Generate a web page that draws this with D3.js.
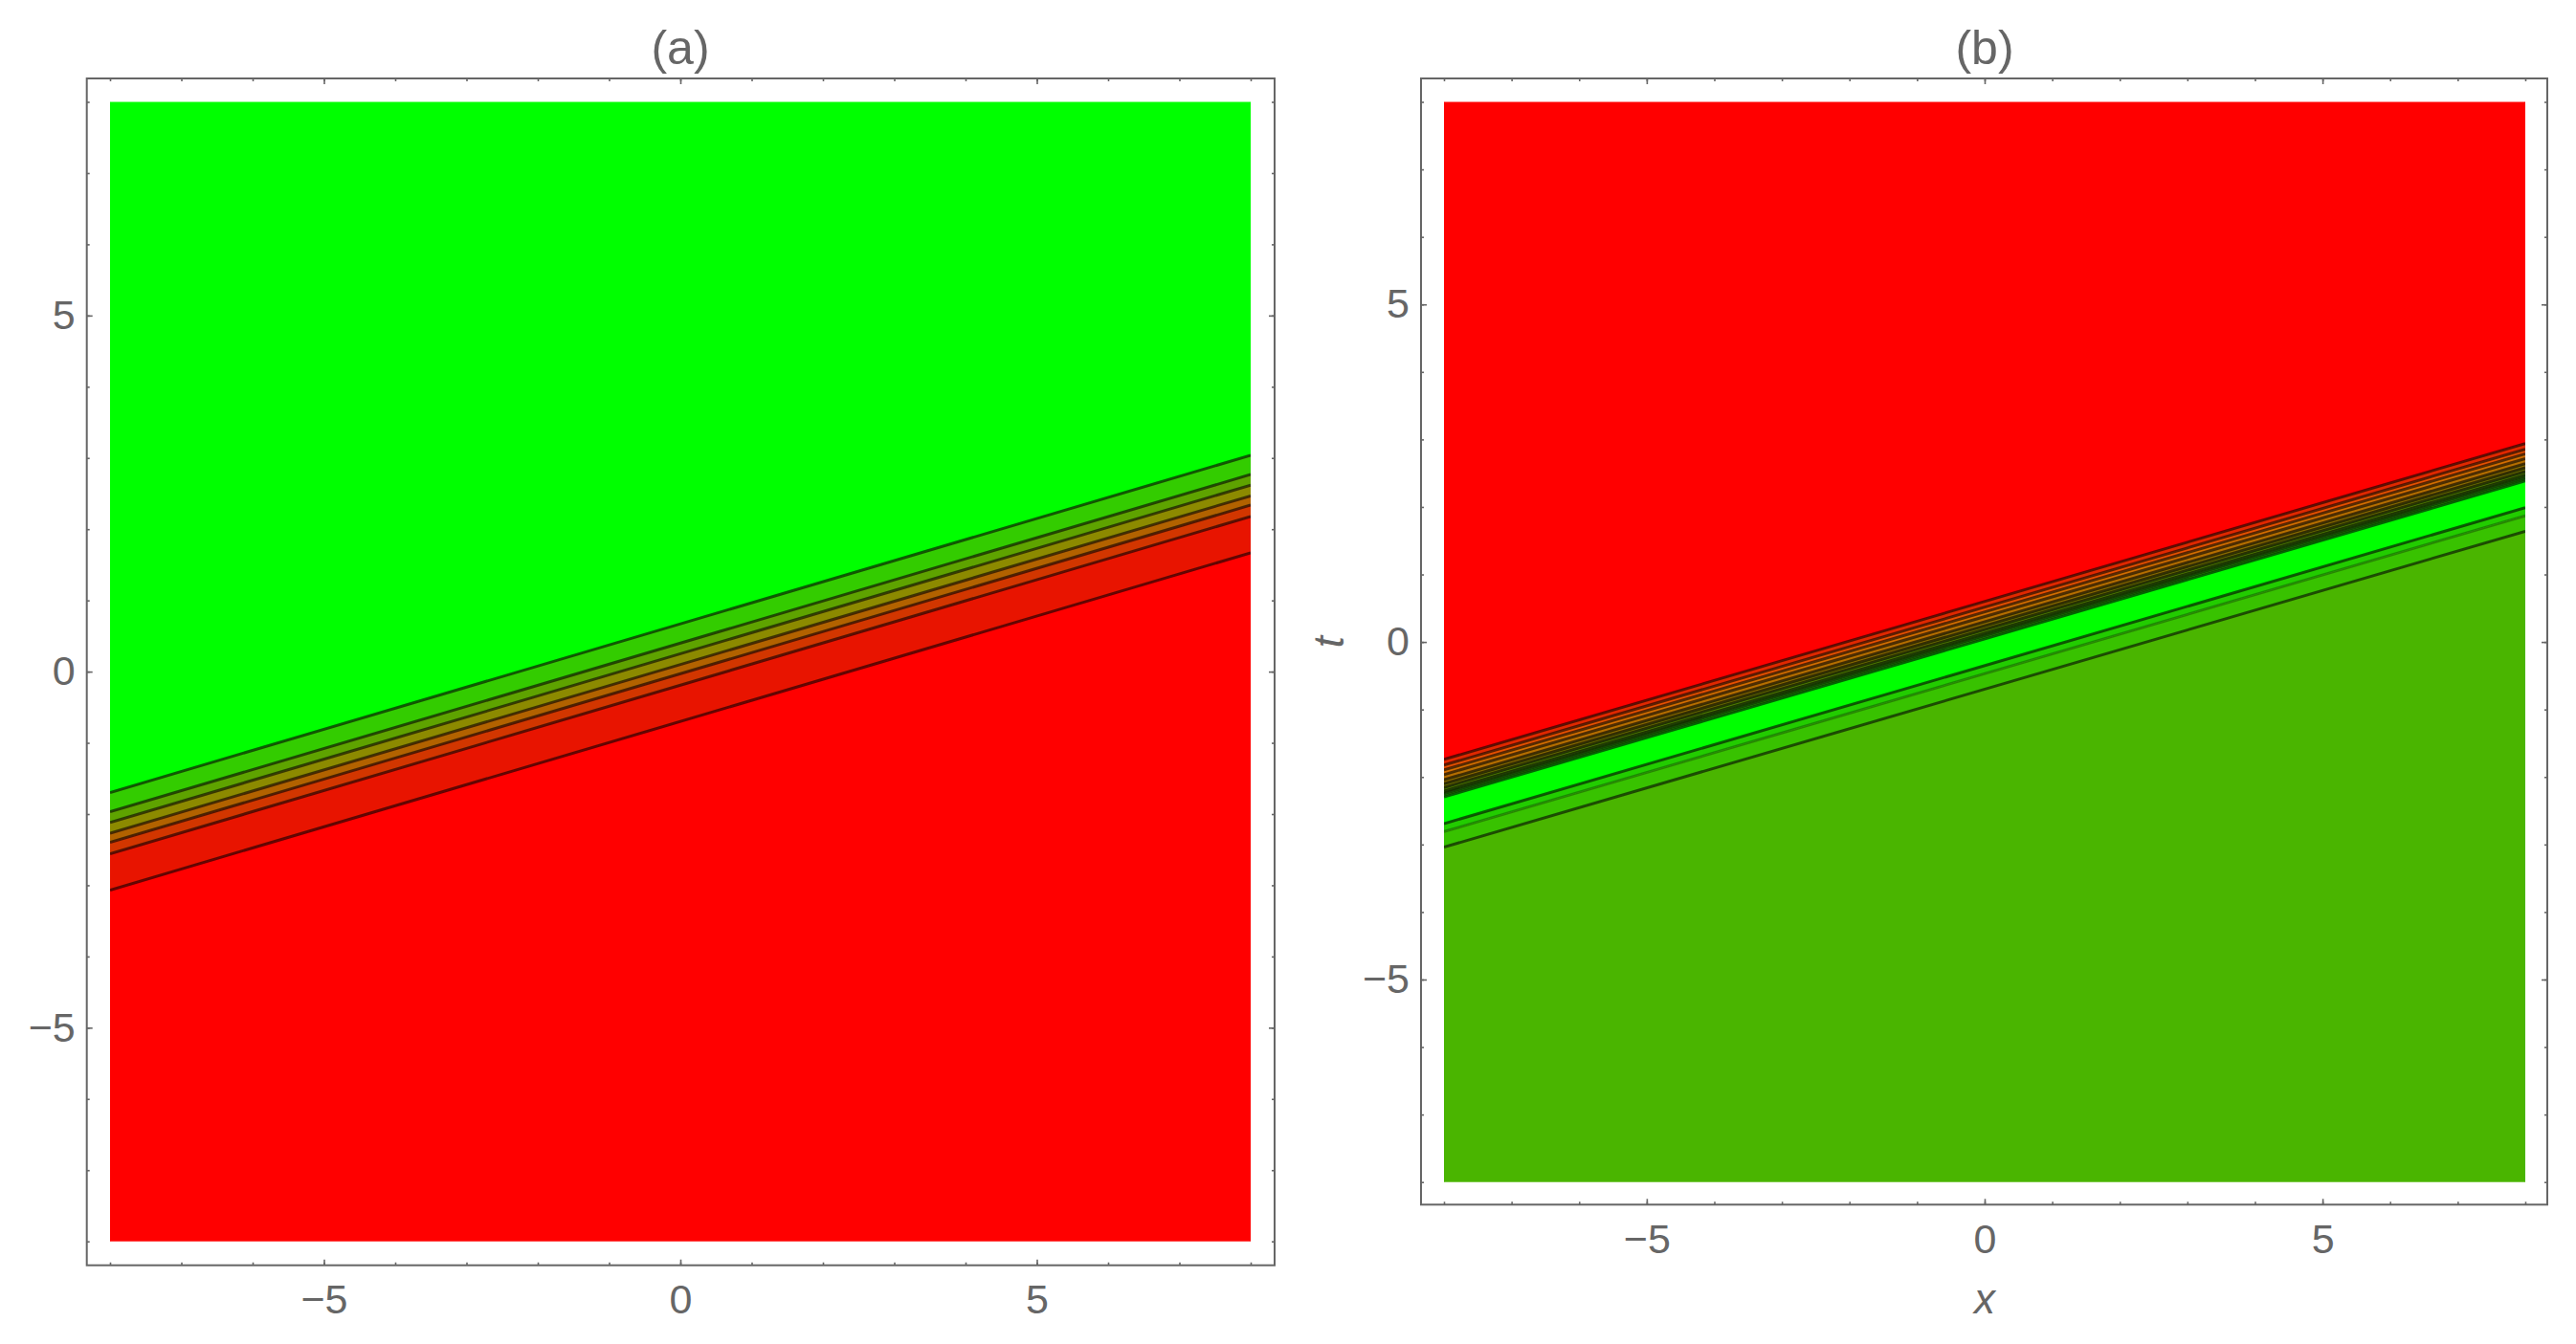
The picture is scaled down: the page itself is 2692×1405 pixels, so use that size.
<!DOCTYPE html>
<html>
<head>
<meta charset="utf-8">
<script src="https://cdn.jsdelivr.net/npm/d3@7"></script>
<style>
  html, body { margin: 0; padding: 0; background: #ffffff; }
  svg { display: block; }
  text { font-family: "Liberation Sans", Arial, sans-serif; fill: #666666; }
</style>
</head>
<body>
<svg id="chart" width="2692" height="1405"></svg>
<script>
// ---------------- data ----------------
const xDomain = [-8, 8];
const tDomain = [-8, 8];
const majorTicks = [-5, 0, 5];
const majorTickLabels = ["\u22125", "0", "5"];
const minorTicks = [-8, -7, -6, -5, -4, -3, -2, -1, 0, 1, 2, 3, 4, 5, 6, 7, 8];
const panelTitles = ["(a)", "(b)"];
const xAxisLabel = "x";
const tAxisLabel = "t";

// contour lines: t = slope * x + intercept (top to bottom)
const slopeA = 0.296;
const interceptsA = [0.67, 0.40, 0.25, 0.10, -0.03, -0.19, -0.70];
const lineOpacityA = [0.6, 0.6, 0.6, 0.6, 0.6, 0.6, 0.6];
const bandColorsA = ["#00ff00", "#33cc00", "#5ea300", "#8c8a00", "#b26200", "#d23600", "#e81400", "#ff0000"];

const slopeB = 0.2925;
const interceptsB = [0.60, 0.515, 0.445, 0.375, 0.30, 0.24, 0.185, 0.13, 0.09, 0.045, -0.35, -0.47, -0.70];
const lineOpacityB = [0.6, 0.6, 0.6, 0.6, 0.6, 0.6, 0.6, 0.6, 0.6, 0.6, 0.6, 0.3, 0.6];
const bandColorsB = ["#ff0000", "#e02800", "#e65000", "#d26e00", "#b46e00", "#8c6e00", "#6e7300",
                     "#508200", "#3c9600", "#28b400", "#00ff00", "#22cc00", "#38c200", "#4ab500"];

// ---------------- layout ----------------
const panels = [
  { title: panelTitles[0], slope: slopeA, intercepts: interceptsA, opac: lineOpacityA, colors: bandColorsA,
    plot: { x0: 115, x1: 1307, y0: 106.5, y1: 1297.7 }, frame: { x0: 90.7, x1: 1332, y0: 82, y1: 1322.7 },
    xlab: false, tlab: false },
  { title: panelTitles[1], slope: slopeB, intercepts: interceptsB, opac: lineOpacityB, colors: bandColorsB,
    plot: { x0: 1509, x1: 2639, y0: 106.5, y1: 1235.7 }, frame: { x0: 1485, x1: 2662, y0: 82, y1: 1259.3 },
    xlab: true, tlab: true }
];

const svg = d3.select("#chart");
const FONT = 43;

panels.forEach((p, pi) => {
  const x = d3.scaleLinear().domain(xDomain).range([p.plot.x0, p.plot.x1]);
  const y = d3.scaleLinear().domain(tDomain).range([p.plot.y1, p.plot.y0]);
  const g = svg.append("g");

  const clipId = "clip" + pi;
  g.append("clipPath").attr("id", clipId).append("rect")
    .attr("x", p.plot.x0).attr("y", p.plot.y0)
    .attr("width", p.plot.x1 - p.plot.x0).attr("height", p.plot.y1 - p.plot.y0);

  const area = g.append("g").attr("clip-path", `url(#${clipId})`);
  const lineT = (c, xv) => p.slope * xv + c;

  // bands
  const nBands = p.colors.length;
  for (let i = 0; i < nBands; i++) {
    const upper = i === 0 ? null : p.intercepts[i - 1];
    const lower = i === nBands - 1 ? null : p.intercepts[i];
    const up = xv => upper === null ? tDomain[1] : lineT(upper, xv);
    const lo = xv => lower === null ? tDomain[0] : lineT(lower, xv);
    const pts = [[xDomain[0], up(xDomain[0])], [xDomain[1], up(xDomain[1])],
                 [xDomain[1], lo(xDomain[1])], [xDomain[0], lo(xDomain[0])]];
    area.append("path")
      .attr("d", "M" + pts.map(d => x(d[0]) + "," + y(d[1])).join("L") + "Z")
      .attr("fill", p.colors[i])
      .attr("stroke", p.colors[i]).attr("stroke-width", 0.6);
  }

  // contour lines
  const line = d3.line().x(d => x(d[0])).y(d => y(d[1]));
  p.intercepts.forEach((c, i) => {
    area.append("path")
      .attr("d", line([[xDomain[0], lineT(c, xDomain[0])], [xDomain[1], lineT(c, xDomain[1])]]))
      .attr("fill", "none")
      .attr("stroke", "#000")
      .attr("stroke-opacity", p.opac[i])
      .attr("stroke-width", 3);
  });

  // frame
  g.append("rect")
    .attr("x", p.frame.x0).attr("y", p.frame.y0)
    .attr("width", p.frame.x1 - p.frame.x0).attr("height", p.frame.y1 - p.frame.y0)
    .attr("fill", "none").attr("stroke", "#666666").attr("stroke-width", 2);

  const styleAxis = sel => {
    sel.select(".domain").remove();
    sel.selectAll(".tick line").attr("stroke", "#666666").attr("stroke-width", 1.6);
    sel.selectAll(".tick text").attr("font-size", FONT).attr("fill", "#666666")
      .attr("font-family", "Liberation Sans, Arial, sans-serif");
  };
  const fmt = d => majorTickLabels[majorTicks.indexOf(d)];

  // bottom
  g.append("g").attr("transform", `translate(0,${p.frame.y1})`)
    .call(d3.axisBottom(x).tickValues(minorTicks).tickSize(-3).tickFormat("")).call(styleAxis);
  g.append("g").attr("transform", `translate(0,${p.frame.y1})`)
    .call(d3.axisBottom(x).tickValues(majorTicks).tickSize(-6).tickPadding(20).tickFormat(fmt)).call(styleAxis);
  // top
  g.append("g").attr("transform", `translate(0,${p.frame.y0})`)
    .call(d3.axisTop(x).tickValues(minorTicks).tickSize(-3).tickFormat("")).call(styleAxis);
  g.append("g").attr("transform", `translate(0,${p.frame.y0})`)
    .call(d3.axisTop(x).tickValues(majorTicks).tickSize(-6).tickFormat("")).call(styleAxis);
  // left
  g.append("g").attr("transform", `translate(${p.frame.x0},0)`)
    .call(d3.axisLeft(y).tickValues(minorTicks).tickSize(-3).tickFormat("")).call(styleAxis);
  g.append("g").attr("transform", `translate(${p.frame.x0},0)`)
    .call(d3.axisLeft(y).tickValues(majorTicks).tickSize(-6).tickPadding(12).tickFormat(fmt)).call(styleAxis);
  // right
  g.append("g").attr("transform", `translate(${p.frame.x1},0)`)
    .call(d3.axisRight(y).tickValues(minorTicks).tickSize(-3).tickFormat("")).call(styleAxis);
  g.append("g").attr("transform", `translate(${p.frame.x1},0)`)
    .call(d3.axisRight(y).tickValues(majorTicks).tickSize(-6).tickFormat("")).call(styleAxis);

  // title
  g.append("text")
    .attr("x", (p.plot.x0 + p.plot.x1) / 2).attr("y", 67)
    .attr("text-anchor", "middle").attr("font-size", 50)
    .text(p.title);

  if (p.xlab) {
    g.append("text")
      .attr("x", (p.plot.x0 + p.plot.x1) / 2).attr("y", 1373)
      .attr("text-anchor", "middle").attr("font-size", 44).attr("font-style", "italic")
      .text(xAxisLabel);
  }
  if (p.tlab) {
    const cy = (p.plot.y0 + p.plot.y1) / 2;
    g.append("text")
      .attr("transform", `translate(1404,${cy}) rotate(-90)`)
      .attr("text-anchor", "middle").attr("font-size", 44).attr("font-style", "italic")
      .text(tAxisLabel);
  }
});
</script>
</body>
</html>
